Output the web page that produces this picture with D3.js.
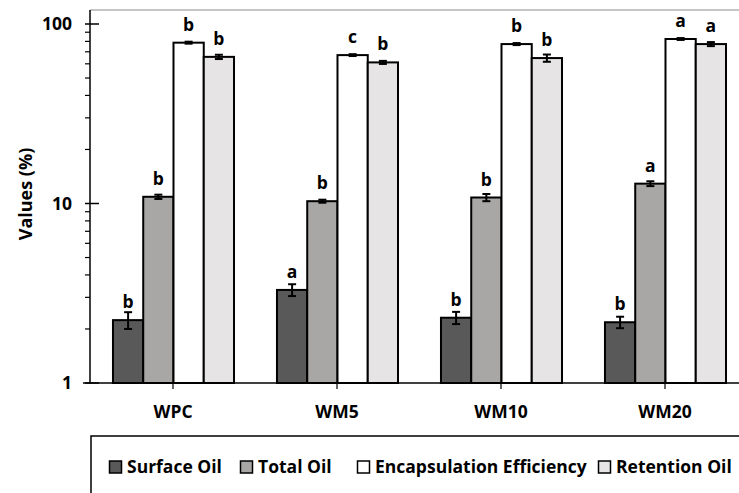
<!DOCTYPE html>
<html>
<head>
<meta charset="utf-8">
<script src="https://cdn.jsdelivr.net/npm/d3@7"></script>
<style>
  html, body { margin: 0; padding: 0; background: #fff; }
  svg { display: block; }
  text { font-family: "Open Sans", "DejaVu Sans", sans-serif; font-weight: 700; fill: #000; }
</style>
</head>
<body>
<svg id="chart" width="739" height="493"></svg>
<script>
// Samples and measured properties
const categories = ["WPC", "WM5", "WM10", "WM20"];
const series = ["Surface Oil", "Total Oil", "Encapsulation Efficiency", "Retention Oil"];
const seriesColors = ["#595959", "#a9a6a6", "#ffffff", "#e6e4e5"];

// Mean values (%) per sample, one array per property
const surfaceOil   = [2.24, 3.30, 2.31, 2.18];
const totalOil     = [10.9, 10.3, 10.8, 12.9];
const encapsEff    = [78.7, 67.1, 77.3, 82.5];
const retentionOil = [65.6, 61.1, 64.6, 77.3];

// Standard deviations
const surfaceOilSd   = [0.24, 0.25, 0.18, 0.16];
const totalOilSd     = [0.3, 0.2, 0.5, 0.4];
const encapsEffSd    = [1.0, 0.8, 1.0, 1.0];
const retentionOilSd = [1.8, 1.2, 3.0, 2.0];

// Significance letters
const surfaceOilSig   = ["b", "a", "b", "b"];
const totalOilSig     = ["b", "b", "b", "a"];
const encapsEffSig    = ["b", "c", "b", "a"];
const retentionOilSig = ["b", "b", "b", "a"];

const yTickValues = [1, 10, 100];

const values = [surfaceOil, totalOil, encapsEff, retentionOil];
const sds = [surfaceOilSd, totalOilSd, encapsEffSd, retentionOilSd];
const sigs = [surfaceOilSig, totalOilSig, encapsEffSig, retentionOilSig];

const data = [];
categories.forEach((c, i) => {
  series.forEach((s, j) => {
    data.push({ cat: c, ser: s, si: j, v: values[j][i], sd: sds[j][i], sig: sigs[j][i] });
  });
});

const svg = d3.select("#chart");
const axisX = 90, axisBottom = 383, axisTop = 10;

const y = d3.scaleLog().domain([1, 100]).range([383, 24]);
const x0 = d3.scaleBand().domain(categories).range([91, 747]).padding(0);
const bw = x0.bandwidth();
const x1 = d3.scaleBand().domain(series).range([bw * 0.134, bw * 0.872]).padding(0);

// Plot area top border
svg.append("line")
  .attr("x1", axisX).attr("x2", 739).attr("y1", axisTop).attr("y2", axisTop)
  .attr("stroke", "#8c8c8c").attr("stroke-width", 1);

// Bars
const g = svg.append("g");
g.selectAll("rect.bar").data(data).join("rect")
  .attr("class", "bar")
  .attr("x", d => x0(d.cat) + x1(d.ser))
  .attr("width", x1.bandwidth())
  .attr("y", d => y(d.v))
  .attr("height", d => y(1) - y(d.v))
  .attr("fill", d => seriesColors[d.si])
  .attr("stroke", "#000").attr("stroke-width", 2);

// Error bars
const cap = 4;
const eb = g.selectAll("g.err").data(data).join("g").attr("class", "err")
  .attr("stroke", "#000").attr("stroke-width", 2);
eb.append("line")
  .attr("x1", d => x0(d.cat) + x1(d.ser) + x1.bandwidth() / 2)
  .attr("x2", d => x0(d.cat) + x1(d.ser) + x1.bandwidth() / 2)
  .attr("y1", d => y(d.v + d.sd)).attr("y2", d => y(d.v - d.sd));
eb.append("line")
  .attr("x1", d => x0(d.cat) + x1(d.ser) + x1.bandwidth() / 2 - cap)
  .attr("x2", d => x0(d.cat) + x1(d.ser) + x1.bandwidth() / 2 + cap)
  .attr("y1", d => y(d.v + d.sd)).attr("y2", d => y(d.v + d.sd));
eb.append("line")
  .attr("x1", d => x0(d.cat) + x1(d.ser) + x1.bandwidth() / 2 - cap)
  .attr("x2", d => x0(d.cat) + x1(d.ser) + x1.bandwidth() / 2 + cap)
  .attr("y1", d => y(d.v - d.sd)).attr("y2", d => y(d.v - d.sd));

// Significance letters
g.selectAll("text.sig").data(data).join("text")
  .attr("class", "sig")
  .attr("x", d => x0(d.cat) + x1(d.ser) + x1.bandwidth() / 2)
  .attr("y", d => y(d.v) - 12)
  .attr("text-anchor", "middle")
  .attr("font-size", 17.5)
  .text(d => d.sig);

// Y axis
const minorTicks = [];
[1, 10].forEach(dec => { for (let k = 2; k <= 9; k++) minorTicks.push(k * dec); });
const yAxis = svg.append("g");
yAxis.append("line")
  .attr("x1", axisX).attr("x2", axisX).attr("y1", axisTop).attr("y2", axisBottom)
  .attr("stroke", "#000").attr("stroke-width", 1.5);
yAxis.selectAll("line.minor").data(minorTicks).join("line")
  .attr("class", "minor")
  .attr("x1", axisX - 5).attr("x2", axisX)
  .attr("y1", d => y(d)).attr("y2", d => y(d))
  .attr("stroke", "#000").attr("stroke-width", 1.2);
yAxis.selectAll("line.major").data(yTickValues).join("line")
  .attr("class", "major")
  .attr("x1", axisX - 5).attr("x2", axisX + 9)
  .attr("y1", d => y(d)).attr("y2", d => y(d))
  .attr("stroke", "#000").attr("stroke-width", 1.5);
yAxis.selectAll("text").data(yTickValues).join("text")
  .attr("x", 72).attr("y", d => y(d))
  .attr("dy", "0.36em")
  .attr("text-anchor", "end")
  .attr("font-size", 17.5)
  .text(d => d3.format("d")(d));

svg.append("text")
  .attr("transform", "translate(26,194) rotate(-90)")
  .attr("text-anchor", "middle")
  .attr("dy", "0.36em")
  .attr("font-size", 18)
  .text("Values (%)");

// X axis
const xAxis = svg.append("g");
xAxis.append("line")
  .attr("x1", 83).attr("x2", 739).attr("y1", axisBottom).attr("y2", axisBottom)
  .attr("stroke", "#000").attr("stroke-width", 1.5);
xAxis.selectAll("line.tick").data(categories).join("line")
  .attr("class", "tick")
  .attr("x1", d => x0(d) + bw / 2).attr("x2", d => x0(d) + bw / 2)
  .attr("y1", axisBottom).attr("y2", axisBottom + 6)
  .attr("stroke", "#000").attr("stroke-width", 1.2);
xAxis.selectAll("text").data(categories).join("text")
  .attr("x", d => x0(d) + bw / 2).attr("y", 412)
  .attr("dy", "0.36em")
  .attr("text-anchor", "middle")
  .attr("font-size", 17.5)
  .text(d => d);

// Legend
const legend = svg.append("g");
legend.append("path")
  .attr("d", "M91,493 L91,436 L739,436")
  .attr("fill", "none").attr("stroke", "#000").attr("stroke-width", 1.5);
const legendX = [109, 240, 357, 598];
const li = legend.selectAll("g.item").data(series).join("g").attr("class", "item")
  .attr("transform", (d, i) => `translate(${legendX[i]},467)`);
li.append("rect")
  .attr("x", 0.5).attr("y", -6).attr("width", 12).attr("height", 12)
  .attr("fill", (d, i) => seriesColors[i])
  .attr("stroke", "#000").attr("stroke-width", 1.5);
li.append("text")
  .attr("x", 18).attr("dy", "0.36em")
  .attr("font-size", 17.5)
  .text(d => d);
</script>
</body>
</html>
